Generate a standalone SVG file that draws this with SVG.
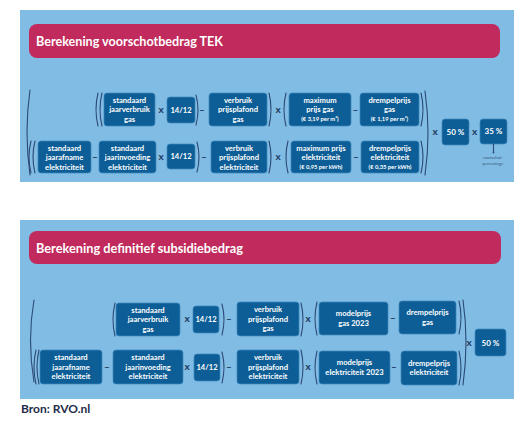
<svg xmlns="http://www.w3.org/2000/svg" width="525" height="422" viewBox="0 0 525 422">
<style>
.bg{fill:#ffffff}
.panel{fill:#80bce4}
.bar{fill:#c12a5c}
.title{font-family:Lato,"Open Sans","Liberation Sans",sans-serif;font-weight:700;font-size:12.5px;fill:#ffffff}
.box{fill:#0d5e96;stroke:#3d88bd;stroke-width:0.7}
.t{font-family:Lato,"Open Sans","Liberation Sans",sans-serif;font-weight:700;font-size:7.6px;fill:#ffffff;text-anchor:middle}
.s{font-size:5.8px}
.p{font-size:8px}
.op{font-family:Lato,"Open Sans","Liberation Sans",sans-serif;font-weight:700;font-size:10px;fill:#1d3a5e;text-anchor:middle}
.br{fill:none;stroke:#2d4a78;stroke-width:1.1;stroke-linecap:round}
.note{font-family:Lato,"Open Sans","Liberation Sans",sans-serif;font-size:4.3px;fill:#3b5a80;text-anchor:middle}
.src{font-family:Lato,"Open Sans","Liberation Sans",sans-serif;font-weight:700;font-size:12px;fill:#1f2d4a}
</style>
<rect class="bg" x="0" y="0" width="525" height="422"/>

<!-- Panel 1 -->
<g id="panel1">
<rect class="panel" x="20" y="10" width="494" height="172"/>
<rect class="bar" x="29" y="24" width="471" height="34" rx="8"/>
<text class="title" x="36" y="46" textLength="187" lengthAdjust="spacingAndGlyphs">Berekening voorschotbedrag TEK</text>
</g>

<g id="a1"><rect class="box" x="104" y="93" width="51" height="33" rx="3"/>
<text class="t" x="129.5" y="102.5">standaard</text><text class="t" x="129.5" y="112">jaarverbruik</text><text class="t" x="129.5" y="121.5">gas</text></g>
<g id="a2"><rect class="box" x="167" y="97" width="28" height="26" rx="3"/>
<text class="t" x="181" y="112.8">14/12</text></g>
<g id="a3"><rect class="box" x="209" y="93" width="58" height="33" rx="3"/>
<text class="t" x="238" y="102.5">verbruik</text><text class="t" x="238" y="112">prijsplafond</text><text class="t" x="238" y="121.5">gas</text></g>
<g id="a4"><rect class="box" x="289" y="93" width="62" height="33" rx="3"/>
<text class="t" x="320" y="102.5">maximum</text><text class="t" x="320" y="112">prijs gas</text><text class="t s" x="320" y="121">(€ 3,19 per m³)</text></g>
<g id="a5"><rect class="box" x="360" y="93" width="59" height="33" rx="3"/>
<text class="t" x="389.5" y="102.5">drempelprijs</text><text class="t" x="389.5" y="112">gas</text><text class="t s" x="389.5" y="121">(€ 1,19 per m³)</text></g>

<g id="b1"><rect class="box" x="38" y="141" width="53" height="32" rx="3"/>
<text class="t" x="64.5" y="150.5">standaard</text><text class="t" x="64.5" y="160">jaarafname</text><text class="t" x="64.5" y="169.5">elektriciteit</text></g>
<g id="b2"><rect class="box" x="99" y="141" width="57" height="32" rx="3"/>
<text class="t" x="127.5" y="150.5">standaard</text><text class="t" x="127.5" y="160">jaarinvoeding</text><text class="t" x="127.5" y="169.5">elektriciteit</text></g>
<g id="b3"><rect class="box" x="167" y="144" width="28" height="25" rx="3"/>
<text class="t" x="181" y="159.3">14/12</text></g>
<g id="b4"><rect class="box" x="211" y="141" width="56" height="32" rx="3"/>
<text class="t" x="239" y="150.5">verbruik</text><text class="t" x="239" y="160">prijsplafond</text><text class="t" x="239" y="169.5">elektriciteit</text></g>
<g id="b5"><rect class="box" x="291" y="141" width="60" height="32" rx="3"/>
<text class="t" x="321" y="150.5">maximum prijs</text><text class="t" x="321" y="160">elektriciteit</text><text class="t s" x="321" y="169">(€ 0,95 per kWh)</text></g>
<g id="b6"><rect class="box" x="361" y="141" width="58" height="32" rx="3"/>
<text class="t" x="390" y="150.5">drempelprijs</text><text class="t" x="390" y="160">elektriciteit</text><text class="t s" x="390" y="169">(€ 0,35 per kWh)</text></g>

<g id="c1"><rect class="box" x="442" y="119" width="27" height="26" rx="3"/>
<text class="t p" x="455.5" y="134.8">50 %</text></g>
<g id="c2"><rect class="box" x="480" y="119" width="27" height="25" rx="3"/>
<text class="t p" x="493.5" y="134.3">35 %</text>
<text class="note" x="493" y="159">voorschot-</text><text class="note" x="493" y="164.5">percentage</text></g>

<!-- Panel 2 -->
<g id="panel2">
<rect class="panel" x="20" y="220" width="494" height="179"/>
<rect class="bar" x="29" y="231" width="472" height="33" rx="8"/>
<text class="title" x="36" y="253" textLength="207" lengthAdjust="spacingAndGlyphs">Berekening definitief subsidiebedrag</text>
</g>

<g id="d1"><rect class="box" x="116" y="303" width="64" height="33" rx="3"/>
<text class="t" x="148" y="312.5">standaard</text><text class="t" x="148" y="322">jaarverbruik</text><text class="t" x="148" y="331.5">gas</text></g>
<g id="d2"><rect class="box" x="193" y="306" width="26" height="27" rx="3"/>
<text class="t" x="206" y="322.3">14/12</text></g>
<g id="d3"><rect class="box" x="237" y="302" width="62" height="34" rx="3"/>
<text class="t" x="268" y="312">verbruik</text><text class="t" x="268" y="321.5">prijsplafond</text><text class="t" x="268" y="331">gas</text></g>
<g id="d4"><rect class="box" x="319" y="302" width="69" height="33" rx="3"/>
<text class="t" x="353.5" y="316">modelprijs</text><text class="t" x="353.5" y="325.5">gas 2023</text></g>
<g id="d5"><rect class="box" x="399" y="301" width="57" height="33" rx="3"/>
<text class="t" x="427.5" y="315">drempelprijs</text><text class="t" x="427.5" y="324.5">gas</text></g>

<g id="e1"><rect class="box" x="40" y="350" width="62" height="34" rx="3"/>
<text class="t" x="71" y="360">standaard</text><text class="t" x="71" y="369.5">jaarafname</text><text class="t" x="71" y="379">elektriciteit</text></g>
<g id="e2"><rect class="box" x="113" y="350" width="70" height="34" rx="3"/>
<text class="t" x="148" y="360">standaard</text><text class="t" x="148" y="369.5">jaarinvoeding</text><text class="t" x="148" y="379">elektriciteit</text></g>
<g id="e3"><rect class="box" x="194" y="354" width="26" height="27" rx="3"/>
<text class="t" x="207" y="370.3">14/12</text></g>
<g id="e4"><rect class="box" x="237" y="350" width="62" height="34" rx="3"/>
<text class="t" x="268" y="360">verbruik</text><text class="t" x="268" y="369.5">prijsplafond</text><text class="t" x="268" y="379">elektriciteit</text></g>
<g id="e5"><rect class="box" x="319" y="351" width="71" height="33" rx="3"/>
<text class="t" x="354.5" y="365">modelprijs</text><text class="t" x="354.5" y="374.5">elektriciteit 2023</text></g>
<g id="e6"><rect class="box" x="401" y="351" width="56" height="34" rx="3"/>
<text class="t" x="429" y="365.5">drempelprijs</text><text class="t" x="429" y="375">elektriciteit</text></g>

<g id="f1"><rect class="box" x="475" y="329" width="31" height="27" rx="3"/>
<text class="t p" x="490.5" y="345.5">50 %</text></g>

<!-- connectors: brackets and operators -->
<g id="connectors">
<!-- panel 1 brackets -->
<path class="br" d="M30 90 Q24 132 30 175"/>
<path class="br" d="M31 141 Q27 157 31 173 M35 141 Q31 157 35 173"/>
<path class="br" d="M98 93 Q94 109.5 98 126 M102 93 Q98 109.5 102 126"/>
<path class="br" d="M196 95 Q200 110 196 125"/>
<path class="br" d="M197 142 Q201 157 197 172"/>
<path class="br" d="M269 93 Q273 109.5 269 126"/>
<path class="br" d="M269 141 Q273 157 269 173"/>
<path class="br" d="M286 93 Q282 109.5 286 126"/>
<path class="br" d="M288 141 Q284 157 288 173"/>
<path class="br" d="M421 93 Q425 109.5 421 126"/>
<path class="br" d="M421 141 Q425 157 421 173"/>
<path class="br" d="M425 91 Q431 133 425 175"/>
<text class="op" x="161" y="113">x</text>
<text class="op" x="161" y="160">x</text>
<text class="op" x="202" y="113">–</text>
<text class="op" x="204" y="160">–</text>
<text class="op" x="95" y="160">–</text>
<text class="op" x="278" y="113">x</text>
<text class="op" x="278" y="160">x</text>
<text class="op" x="355.5" y="113">–</text>
<text class="op" x="356" y="160">–</text>
<text class="op" x="435" y="135">x</text>
<text class="op" x="474.5" y="135">x</text>
<path class="br" d="M493.5 144 L493.5 152" stroke-width="0.8"/>
<circle cx="493.5" cy="152.5" r="0.9" fill="#2d4a78"/>

<!-- panel 2 brackets -->
<path class="br" d="M34 300 Q27 340 34 382"/>
<path class="br" d="M36 350 Q32 367 36 384 M39 350 Q35 367 39 384"/>
<path class="br" d="M115 303 Q111 319.5 115 336"/>
<path class="br" d="M222 304 Q226 319.5 222 335"/>
<path class="br" d="M222 352 Q226 367.5 222 383"/>
<path class="br" d="M301 303 Q305 319.5 301 336"/>
<path class="br" d="M301 350 Q305 367 301 384"/>
<path class="br" d="M317 302 Q313 318.5 317 335"/>
<path class="br" d="M317 351 Q313 367.5 317 384"/>
<path class="br" d="M459 301 Q463 317.5 459 334"/>
<path class="br" d="M459 351 Q463 368 459 385"/>
<path class="br" d="M463 300 Q469 342 463 385"/>
<text class="op" x="187" y="322">x</text>
<text class="op" x="187" y="370">x</text>
<text class="op" x="107" y="370">–</text>
<text class="op" x="229" y="322">–</text>
<text class="op" x="229" y="370">–</text>
<text class="op" x="308" y="322">x</text>
<text class="op" x="308" y="370">x</text>
<text class="op" x="393" y="321">–</text>
<text class="op" x="394" y="370">–</text>
<text class="op" x="469" y="346">x</text>
</g>

<text class="src" x="21" y="413">Bron: RVO.nl</text>
</svg>
